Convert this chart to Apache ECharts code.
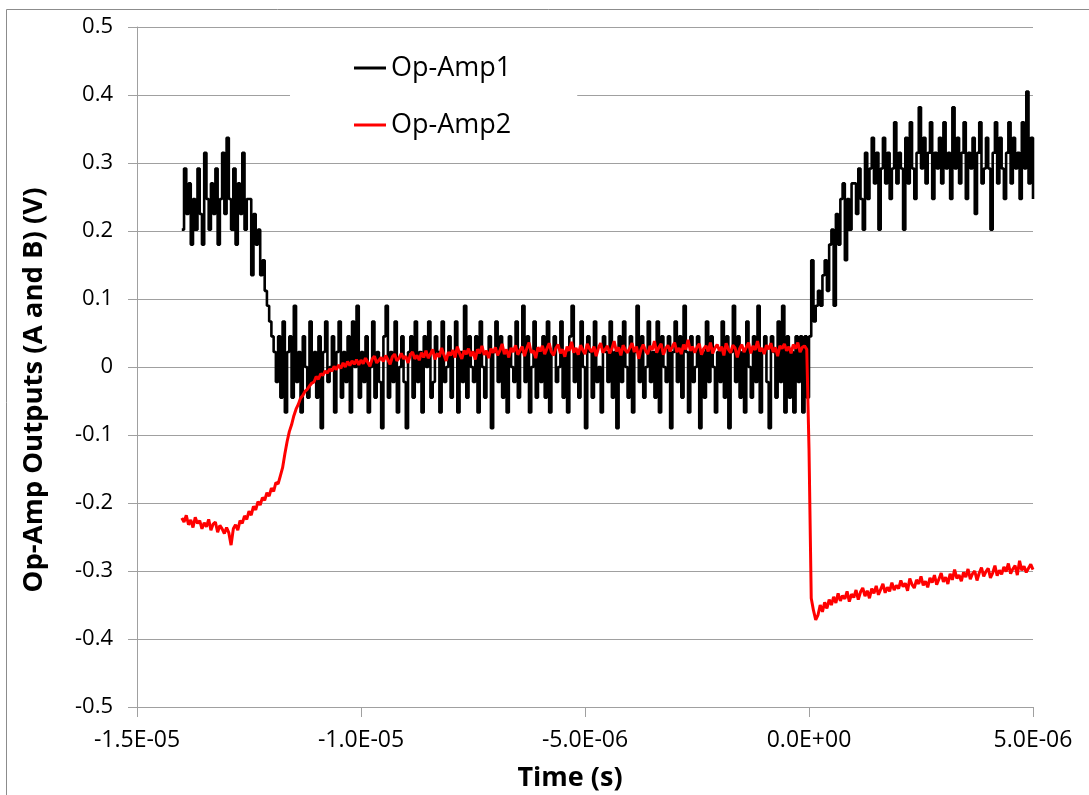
<!DOCTYPE html>
<html>
<head>
<meta charset="utf-8">
<script src="https://cdn.jsdelivr.net/npm/echarts@6/dist/echarts.min.js"></script>
<style>
html,body{margin:0;padding:0;background:#fff;}
#chart{width:1089px;height:795px;}
</style>
</head>
<body>
<div id="chart"></div>
<script>
// Sampling of the scope traces (seconds)
const T_START = -14.0e-6;
const T_STEP = 0.05e-6;

const xTicks = ['-1.5E-05', '-1.0E-05', '-5.0E-06', '0.0E+00', '5.0E-06'];
const seriesNames = ['Op-Amp1', 'Op-Amp2'];

// Op-Amp1 output (V), one value per sample
const opAmp1 = [
  0.202, 0.292, 0.225, 0.27, 0.18, 0.247, 0.202, 0.292, 0.225, 0.18,
  0.315, 0.247, 0.202, 0.27, 0.225, 0.292, 0.18, 0.247, 0.315, 0.225,
  0.337, 0.247, 0.202, 0.292, 0.18, 0.27, 0.225, 0.315, 0.202, 0.247,
  0.247, 0.135, 0.225, 0.18, 0.202, 0.135, 0.157, 0.112, 0.09, 0.067,
  0.045, 0.022, -0.022, 0.045, -0.045, 0.067, -0.067, 0.022, 0.045, -0.045,
  0.09, -0.022, 0.022, -0.067, 0.045, 0, -0.045, 0.067, -0.022, 0.022,
  -0.045, 0.045, -0.09, 0.022, 0.067, -0.022, 0, 0.045, -0.067, 0.022,
  0.067, -0.045, 0.022, -0.022, 0.045, -0.067, 0.067, 0, 0.09, -0.045,
  0.022, -0.022, 0.045, -0.067, 0, 0.067, -0.045, 0.022, -0.022, -0.09,
  0.045, 0.09, -0.045, 0.022, -0.022, 0.067, -0.067, 0, 0.045, -0.022,
  -0.09, 0.022, 0.045, -0.045, 0.067, -0.022, 0.022, -0.067, 0.045, 0,
  0.067, -0.045, -0.022, 0.045, 0.022, -0.067, 0.067, -0.022, 0, 0.045,
  -0.045, 0.022, 0.067, -0.067, 0.022, -0.022, 0.09, -0.045, 0.045, 0,
  -0.022, 0.045, -0.067, 0.067, 0, -0.045, 0.022, 0.045, -0.09, 0.022,
  0.067, -0.022, 0.045, -0.045, 0.022, -0.067, 0.045, 0, -0.022, 0.067,
  -0.045, 0.022, 0.09, -0.022, 0.045, -0.067, 0, 0.067, -0.045, 0.022,
  -0.022, 0.045, -0.045, 0.067, -0.067, 0.022, 0.045, -0.022, 0, 0.067,
  -0.045, 0.022, -0.067, 0.045, 0.09, -0.022, 0.022, -0.045, 0.067, 0,
  -0.09, 0.045, 0.022, -0.045, 0.067, -0.022, 0, -0.067, 0.045, 0.022,
  -0.022, 0.067, -0.045, 0.022, -0.09, 0.045, -0.022, 0.067, 0, -0.045,
  0.045, -0.067, 0.022, 0.09, -0.022, 0.045, -0.045, 0, 0.067, -0.022,
  0.022, -0.045, 0.067, -0.067, 0.045, 0, -0.022, 0.045, -0.09, 0.022,
  0.067, -0.022, 0.045, -0.045, 0.09, 0.022, -0.067, 0.045, -0.022, 0,
  0.045, -0.09, 0.022, -0.045, 0.067, -0.022, 0.045, 0, -0.067, 0.022,
  -0.022, 0.067, -0.045, 0.045, -0.09, 0.022, 0.09, -0.022, 0.045, -0.045,
  0.022, -0.067, 0.067, 0, -0.045, 0.045, -0.022, 0.09, -0.067, 0.022,
  0.045, -0.022, -0.09, 0.045, 0.022, -0.045, 0.067, -0.022, 0.09, -0.067,
  0.045, -0.045, 0.022, -0.067, 0.045, -0.022, 0.045, -0.067, 0.045, -0.045,
  0.045, 0.157, 0.067, 0.09, 0.112, 0.09, 0.135, 0.157, 0.112, 0.18,
  0.202, 0.09, 0.225, 0.18, 0.247, 0.27, 0.157, 0.247, 0.202, 0.27,
  0.27, 0.225, 0.292, 0.247, 0.202, 0.315, 0.247, 0.292, 0.337, 0.27,
  0.315, 0.202, 0.292, 0.337, 0.27, 0.315, 0.247, 0.292, 0.36, 0.27,
  0.315, 0.292, 0.202, 0.337, 0.27, 0.36, 0.292, 0.247, 0.315, 0.382,
  0.292, 0.337, 0.27, 0.315, 0.36, 0.247, 0.315, 0.292, 0.337, 0.27,
  0.36, 0.292, 0.315, 0.247, 0.382, 0.292, 0.337, 0.27, 0.315, 0.36,
  0.247, 0.315, 0.292, 0.337, 0.225, 0.315, 0.36, 0.27, 0.292, 0.337,
  0.292, 0.202, 0.315, 0.36, 0.27, 0.337, 0.292, 0.247, 0.315, 0.36,
  0.27, 0.337, 0.292, 0.315, 0.247, 0.36, 0.292, 0.405, 0.27, 0.337,
  0.247
];

// Op-Amp2 output (V), one value per sample
const opAmp2 = [
  -0.222, -0.228, -0.218, -0.232, -0.225, -0.236, -0.221, -0.230, -0.226, -0.238,
  -0.229, -0.235, -0.224, -0.240, -0.231, -0.228, -0.243, -0.233, -0.238, -0.245,
  -0.236, -0.244, -0.262, -0.238, -0.232, -0.240, -0.226, -0.230, -0.219, -0.224,
  -0.212, -0.218, -0.205, -0.210, -0.198, -0.203, -0.192, -0.196, -0.185, -0.190,
  -0.178, -0.183, -0.170, -0.172, -0.160, -0.148, -0.128, -0.110, -0.095, -0.085,
  -0.072, -0.062, -0.055, -0.046, -0.042, -0.036, -0.033, -0.028, -0.024, -0.022,
  -0.014, -0.018, -0.010, -0.012, -0.006, -0.009, -0.003, -0.006, 0.001, -0.004,
  0.003, -0.002, 0.006, 0.000, 0.008, 0.002, 0.009, 0.004, 0.011, 0.003,
  0.010, 0.005, 0.013, 0.007, 0.001, 0.012, 0.016, 0.006, 0.010, 0.014,
  0.008, 0.017, 0.011, 0.004, 0.015, 0.019, 0.009, 0.013, 0.020, 0.012,
  0.016, 0.006, 0.018, 0.022, 0.012, 0.017, 0.010, 0.021, 0.014, 0.024,
  0.013, 0.019, 0.026, 0.011, 0.020, 0.015, 0.028, 0.018, 0.009, 0.022,
  0.017, 0.025, 0.014, 0.030, 0.020, 0.012, 0.024, 0.019, 0.027, 0.016,
  0.023, 0.011, 0.026, 0.020, 0.031, 0.018, 0.024, 0.013, 0.027, 0.021,
  0.029, 0.017, 0.024, 0.034, 0.019, 0.026, 0.014, 0.028, 0.022, 0.032,
  0.018, 0.025, 0.030, 0.016, 0.027, 0.036, 0.021, 0.024, 0.013, 0.029,
  0.023, 0.031, 0.019, 0.027, 0.035, 0.022, 0.017, 0.028, 0.033, 0.020,
  0.026, 0.015, 0.030, 0.024, 0.037, 0.021, 0.028, 0.018, 0.032, 0.025,
  0.019, 0.034, 0.027, 0.022, 0.030, 0.016, 0.028, 0.035, 0.021, 0.026,
  0.031, 0.020, 0.027, 0.038, 0.023, 0.029, 0.017, 0.032, 0.025, 0.021,
  0.028, 0.035, 0.022, 0.030, 0.012, 0.026, 0.033, 0.024, 0.019, 0.031,
  0.025, 0.038, 0.021, 0.029, 0.034, 0.018, 0.027, 0.032, 0.023, 0.030,
  0.036, 0.022, 0.028, 0.019, 0.033, 0.026, 0.040, 0.024, 0.030, 0.021,
  0.029, 0.034, 0.018, 0.027, 0.031, 0.023, 0.036, 0.020, 0.028, 0.033,
  0.024, 0.030, 0.017, 0.035, 0.026, 0.021, 0.032, 0.028, 0.014, 0.027,
  0.033, 0.022, 0.029, 0.036, 0.020, 0.031, 0.025, 0.038, 0.023, 0.028,
  0.019, 0.032, 0.026, 0.035, 0.022, 0.029, 0.016, 0.031, 0.027, 0.034,
  0.024, 0.030, 0.020, 0.033, 0.027, 0.036, 0.022, 0.029, 0.031, 0.026,
  -0.120, -0.340, -0.358, -0.372, -0.365, -0.350, -0.360, -0.346, -0.355, -0.342,
  -0.350, -0.338, -0.347, -0.333, -0.344, -0.336, -0.341, -0.330, -0.345, -0.334,
  -0.339, -0.328, -0.342, -0.331, -0.325, -0.337, -0.329, -0.340, -0.326, -0.333,
  -0.322, -0.335, -0.327, -0.319, -0.332, -0.324, -0.330, -0.317, -0.328, -0.321,
  -0.326, -0.314, -0.323, -0.318, -0.329, -0.311, -0.320, -0.325, -0.313, -0.319,
  -0.308, -0.321, -0.315, -0.324, -0.310, -0.317, -0.306, -0.320, -0.312, -0.303,
  -0.316, -0.309, -0.319, -0.304, -0.313, -0.298, -0.311, -0.306, -0.315, -0.302,
  -0.309, -0.297, -0.312, -0.304, -0.300, -0.314, -0.303, -0.295, -0.308, -0.301,
  -0.296, -0.310, -0.303, -0.292, -0.307, -0.299, -0.305, -0.294, -0.301, -0.289,
  -0.304, -0.297, -0.292, -0.306, -0.285, -0.299, -0.293, -0.302, -0.296, -0.290,
  -0.298
];

function pairs(vals) {
  return vals.map((v, i) => [T_START + i * T_STEP, v]);
}

function fmtX(v) {
  const idx = Math.round((v + 1.5e-5) / 5e-6);
  return xTicks[idx] !== undefined ? xTicks[idx] : '';
}
function fmtY(v) {
  const r = Math.round(v * 10) / 10;
  if (Math.abs(r) < 1e-9) return '0';
  return r.toFixed(1);
}

const FONT = '"Open Sans", sans-serif';
const AXIS_GRAY = '#a0a0a0';

const chart = echarts.init(document.getElementById('chart'), null, {renderer: 'canvas'});
chart.setOption({
  animation: false,
  backgroundColor: '#ffffff',
  grid: {left: 137, right: 56, top: 27, bottom: 88, containLabel: false},
  xAxis: {
    type: 'value',
    min: -1.5e-5,
    max: 5e-6,
    interval: 5e-6,
    splitLine: {show: false},
    axisLine: {show: true, onZero: false, lineStyle: {color: AXIS_GRAY, width: 1}},
    axisTick: {show: true, length: 10, lineStyle: {color: AXIS_GRAY}},
    axisLabel: {formatter: fmtX, margin: 22, color: '#000', fontFamily: FONT, fontSize: 23}
  },
  yAxis: {
    type: 'value',
    min: -0.5,
    max: 0.5,
    interval: 0.1,
    splitLine: {show: true, lineStyle: {color: AXIS_GRAY, width: 1}},
    axisLine: {show: true, onZero: false, lineStyle: {color: AXIS_GRAY, width: 1}},
    axisTick: {show: true, length: 9, lineStyle: {color: AXIS_GRAY}},
    axisLabel: {formatter: fmtY, margin: 24, color: '#000', fontFamily: FONT, fontSize: 22}
  },
  legend: {
    show: true,
    orient: 'vertical',
    left: 290,
    top: 40,
    padding: [13, 66, 15, 64],
    backgroundColor: '#ffffff',
    itemWidth: 32,
    itemHeight: 3,
    itemGap: 27,
    icon: 'rect',
    data: seriesNames,
    textStyle: {fontFamily: FONT, fontSize: 27, color: '#000', lineHeight: 30, padding: [0, 0, 0, 0]}
  },
  graphic: [
    {type: 'rect', silent: true, z: 100,
     shape: {x: 6.5, y: 9.5, width: 1200, height: 900},
     style: {fill: 'none', stroke: '#8c8c8c', lineWidth: 1}},
    {type: 'text', silent: true, x: 570, y: 778, z: 100,
     style: {text: 'Time (s)', font: 'bold 27px ' + FONT, fill: '#000',
             textAlign: 'center', textVerticalAlign: 'middle'}},
    {type: 'text', silent: true, x: 34, y: 390, rotation: Math.PI / 2, z: 100,
     style: {text: 'Op-Amp Outputs (A and B) (V)', font: 'bold 27.5px ' + FONT, fill: '#000',
             textAlign: 'center', textVerticalAlign: 'middle'}}
  ],
  series: [
    {name: seriesNames[0], type: 'line', data: pairs(opAmp1), showSymbol: false, step: 'end',
     symbol: 'none', color: '#000000', lineStyle: {color: '#000000', width: 2.6}, z: 2},
    {name: seriesNames[1], type: 'line', data: pairs(opAmp2), showSymbol: false,
     symbol: 'none', color: '#ff0000', lineStyle: {color: '#ff0000', width: 3}, z: 3}
  ]
});
</script>
</body>
</html>
